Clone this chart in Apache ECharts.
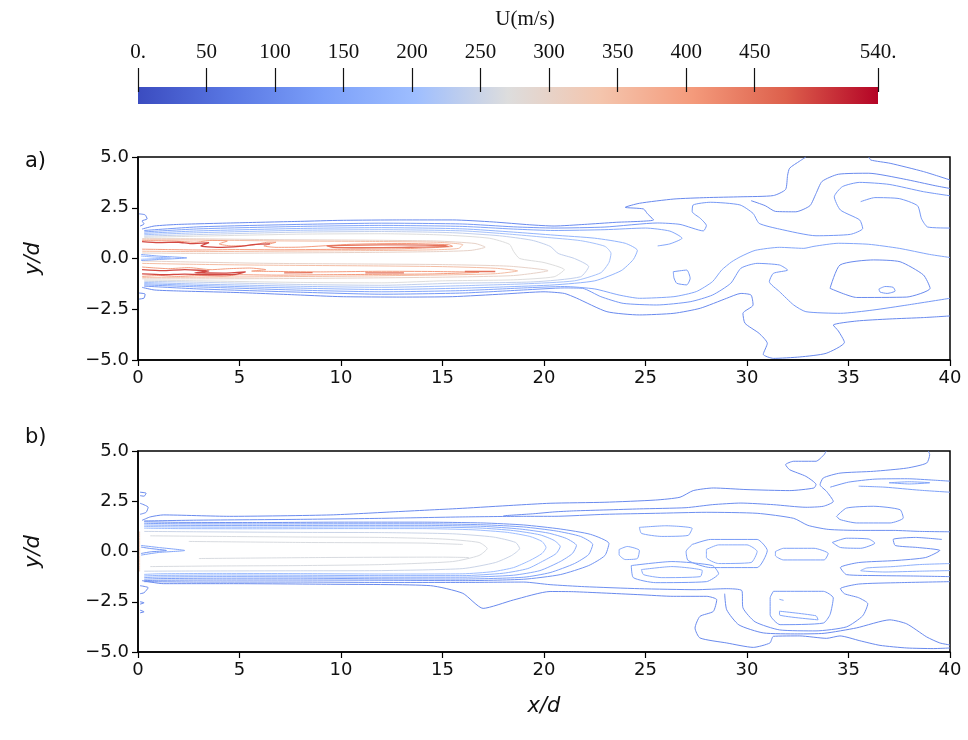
<!DOCTYPE html>
<html><head><meta charset="utf-8">
<script src="https://cdn.jsdelivr.net/npm/echarts@6/dist/echarts.min.js"></script>
<style>html,body{margin:0;padding:0;background:#fff}#c{width:968px;height:740px}</style>
</head><body><div id="c"></div>
<script>
// ---------- colour bar ----------
const cbTicks = [0, 50, 100, 150, 200, 250, 300, 350, 400, 450, 540];
const cbMax = 540;
const cbTitle = 'U(m/s)';
// ---------- axes ----------
const xRange = [0, 40], xStep = 5;
const yRange = [-5, 5], yStep = 2.5;

// ---------- panel a contours [x/d, y/d] ----------
const a_out_top = [[0.2,1.45],[0.8,1.6],[2,1.68],[5,1.76],[8,1.83],[10,1.88],[13,1.9],[15.5,1.9],[17.5,1.8],[19.3,1.66],[20.5,1.6],[22,1.68],[23.5,1.78],[25.4,1.9],[25.1,2.2],[24.9,2.44],[24.0,2.52],[24.7,2.72],[26.4,2.93],[28,3.0],[29.7,3.04],[31.3,3.1],[31.9,3.4],[32,4.1],[32.1,4.45],[32.6,4.8],[32.9,5.0]];
const a_out_bot = [[0.2,-1.42],[0.8,-1.55],[2,-1.6],[5,-1.68],[8,-1.8],[10,-1.88],[13,-1.9],[15.5,-1.88],[18,-1.75],[20,-1.64],[21,-1.72],[21.6,-1.95],[23.1,-2.62],[24.7,-2.78],[26.4,-2.7],[27.7,-2.45],[29.0,-1.96],[29.7,-1.72],[30.2,-1.8],[30.3,-2.29],[29.8,-2.7],[29.9,-3.19],[30.6,-3.69],[31.0,-4.18],[30.8,-4.72],[31.3,-4.92],[32.6,-4.85],[33.9,-4.67],[34.8,-4.13],[34.5,-3.57],[34.25,-3.28],[35.4,-3.08],[37.0,-2.98],[38.7,-2.91],[40,-2.83]];
const a_w2_top = [[0.3,1.38],[3,1.56],[8,1.68],[12,1.74],[16,1.7],[18.5,1.56],[20.5,1.5],[23,1.55],[25.6,1.75],[26.7,1.68],[27.85,1.36],[28.0,1.62],[27.7,1.98],[27.3,2.31],[27.35,2.64],[28.2,2.77],[29.65,2.64],[30.3,2.22],[30.6,1.73],[31.6,1.45],[33.4,1.12],[35.1,1.19],[35.7,1.48],[35.55,1.9],[34.6,2.39],[34.3,3.04],[34.7,3.54],[35.55,3.75],[37.0,3.65],[38.7,3.29],[40,3.09]];
const a_w2_bot = [[0.3,-1.36],[3,-1.5],[8,-1.66],[12,-1.76],[16,-1.7],[19,-1.55],[21.0,-1.45],[21.9,-1.47],[22.8,-1.88],[23.9,-2.21],[25.55,-2.29],[27.2,-2.13],[28.3,-1.8],[29.2,-1.22],[29.7,-0.48],[30.5,-0.24],[31.6,-0.32],[32.0,-0.57],[31.3,-0.73],[31.1,-1.14],[31.6,-1.63],[32.3,-2.29],[32.9,-2.62],[34.6,-2.7],[36.2,-2.54],[37.9,-2.29],[40,-1.96]];
const a_w3_top = [[0.3,1.31],[3,1.46],[8,1.58],[12,1.63],[16,1.58],[18.5,1.45],[20.5,1.38],[23,1.42],[25,1.5],[26.2,1.35],[26.8,1.0],[26.2,0.72],[25.6,0.62]];
const a_w3_bot = [[0.3,-1.3],[3,-1.4],[8,-1.56],[12,-1.64],[16,-1.58],[19,-1.45],[21,-1.38],[22.5,-1.5],[23.7,-1.8],[24.7,-1.96],[26.4,-1.88],[27.5,-1.63],[28.3,-1.14],[28.75,-0.57],[29.25,-0.16],[29.7,0.1],[30.4,0.4],[31.6,0.55],[32.8,0.5],[33.3,0.6],[34.5,0.75],[36,0.7],[37.5,0.5],[39,0.2],[40,0.05]];
const a_j180 = [[0.3,1.24],[3,1.36],[8,1.48],[12,1.52],[16,1.46],[18.5,1.3],[20.5,1.15],[22.5,1.0],[24.0,0.75],[24.6,0.4],[24.4,-0.05],[23.8,-0.6],[22.5,-1.1],[20.5,-1.3],[18,-1.4],[16,-1.46],[12,-1.53],[8,-1.46],[3,-1.33],[0.3,-1.24]];
const a_j210 = [[0.3,1.17],[3,1.27],[8,1.39],[12,1.42],[16,1.36],[18.3,1.2],[20,1.05],[21.8,0.88],[23.0,0.6],[23.3,0.25],[23.2,-0.2],[22.8,-0.7],[21.5,-1.1],[19,-1.25],[16,-1.34],[12,-1.42],[8,-1.37],[3,-1.26],[0.3,-1.18]];
const a_j240 = [[0.3,1.1],[3,1.18],[8,1.3],[12,1.33],[15.5,1.27],[17.8,1.12],[19.4,0.9],[20.3,0.6],[20.7,0.25],[21.5,0.0],[22.2,-0.4],[21.8,-0.9],[19.5,-1.15],[15.5,-1.22],[12,-1.32],[8,-1.28],[3,-1.17],[0.3,-1.12]];
const a_j270 = [[0.3,1.04],[3,1.1],[8,1.2],[12,1.22],[15,1.16],[17.3,1.0],[18.3,0.7],[18.5,0.35],[18.8,0.0],[20,-0.2],[21,-0.55],[20.5,-0.9],[18.5,-1.05],[15,-1.1],[12,-1.2],[8,-1.18],[3,-1.1],[0.3,-1.06]];
const a_u300 = [[0.2,0.98],[3,0.97],[6.5,0.93],[11.4,0.9],[14.7,0.86],[16.6,0.74],[17.1,0.56],[16.4,0.4],[14.7,0.34],[11.4,0.3],[6.5,0.27],[3,0.25],[0.2,0.27]];
const a_u350 = [[0.2,0.92],[3,0.91],[6.5,0.87],[11.4,0.84],[14.7,0.8],[16.0,0.68],[15.8,0.5],[14.7,0.43],[11.4,0.39],[6.5,0.36],[3,0.34],[0.2,0.36]];
const a_u400 = [[0.2,0.88],[1.8,0.86],[2.8,0.8],[3.6,0.89],[4.4,0.86],[4.0,0.72],[4.6,0.62],[5.6,0.65],[6.4,0.8],[6.8,0.8],[6.2,0.62],[6.8,0.55],[8,0.56],[10.5,0.7],[13,0.74],[15.3,0.68],[15.5,0.6],[13,0.48],[9.5,0.45],[7,0.43],[4.8,0.44],[3,0.42],[1.5,0.44],[0.2,0.46]];
const a_u490 = [[0.2,0.83],[1,0.78],[2,0.8],[2.6,0.73],[3.5,0.78],[3.1,0.62],[3.9,0.55],[5,0.6],[5.8,0.7],[6.5,0.72]];
const a_u450 = [[9.3,0.62],[11,0.66],[13,0.67],[15.1,0.64],[15.3,0.59],[13,0.55],[11,0.53],[9.6,0.55],[9.3,0.62]];
const a_l300 = [[0.2,-0.12],[3,-0.18],[6.5,-0.24],[11,-0.27],[15,-0.3],[18.3,-0.38],[20.2,-0.6],[18.5,-0.84],[15,-0.92],[11,-0.96],[6.5,-0.99],[3,-1.0],[0.2,-1.0]];
const a_l350 = [[0.2,-0.24],[3,-0.29],[6.5,-0.33],[11,-0.36],[15,-0.4],[17.6,-0.48],[18.7,-0.61],[17.6,-0.75],[15,-0.81],[11,-0.86],[6.5,-0.9],[3,-0.92],[0.2,-0.93]];
const a_l400 = [[0.2,-0.42],[1.5,-0.5],[2.5,-0.45],[3.6,-0.55],[4.5,-0.5],[5.5,-0.47],[6.3,-0.55],[5.6,-0.62],[7,-0.64],[9,-0.66],[12,-0.63],[14.5,-0.64],[16.8,-0.68],[14.5,-0.76],[12,-0.78],[9,-0.8],[7,-0.82],[5,-0.8],[4.2,-0.87],[3,-0.84],[2,-0.88],[1,-0.84],[0.2,-0.88]];
const a_l490 = [[0.2,-0.55],[1.2,-0.6],[2.3,-0.55],[3.5,-0.62],[2.8,-0.7],[4.2,-0.72],[5.3,-0.66],[4.8,-0.78],[3.5,-0.8],[2.3,-0.77],[1.2,-0.8],[0.2,-0.76]];
const a_l450a = [[7.2,-0.71],[8.6,-0.7]];
const a_l450b = [[11.2,-0.71],[13.1,-0.71]];
const a_l450c = [[16.1,-0.64],[17.6,-0.64]];
const a_c1 = [[0.15,0.2],[1.0,0.12],[2.4,0.03],[1.0,-0.05],[0.15,-0.1]];
const a_c2 = [[0.15,0.12],[0.8,0.07],[1.6,0.02],[0.8,-0.01],[0.15,-0.04]];
const a_n1 = [[0.05,2.2],[0.35,2.15],[0.45,1.95],[0.2,1.85],[0.3,1.7],[0.1,1.6]];
const a_n2 = [[0.05,-1.7],[0.35,-1.75],[0.3,-1.95],[0.05,-2.0]];
const a_tr1 = [[36.0,5.0],[36.1,4.85],[37.05,4.69],[38.7,4.28],[40,3.87]];
const a_tr2 = [[40,3.45],[39.3,3.58],[37.7,3.92],[36.0,4.2],[34.5,4.15],[33.7,3.8],[33.4,3.2],[33.1,2.6],[32.4,2.3],[31.4,2.32],[30.9,2.6],[30.2,2.85]];
const a_tr3 = [[40,1.5],[38.9,1.55],[38.6,1.95],[38.4,2.6],[37.5,2.95],[36.3,3.0],[35.6,2.8]];
const a_m1 = [[26.37,-0.65],[27.03,-0.57],[27.2,-0.98],[27.03,-1.3],[26.54,-1.22],[26.4,-0.95],[26.37,-0.65]];
const a_m2 = [[34.09,-1.47],[34.58,-0.32],[36.23,-0.07],[37.54,-0.16],[38.69,-0.81],[39.02,-1.47],[37.87,-1.9],[35.4,-1.92],[34.09,-1.47]];
const a_m3 = [[36.5,-1.5],[36.8,-1.38],[37.2,-1.42],[37.3,-1.6],[36.9,-1.72],[36.55,-1.65],[36.5,-1.5]];

// ---------- panel b contours [x/d, y/d] ----------
const b_out_top = [[0.2,1.55],[0.6,1.72],[1.25,1.82],[4.5,1.75],[9.5,1.82],[12.7,1.98],[16,2.15],[18.5,2.3],[20.3,2.4],[23,2.45],[25.5,2.56],[26.7,2.7],[27.35,3.03],[28.34,3.16],[30,3.08],[32.1,3.03],[33.3,3.16],[33.4,3.33],[32.9,3.74],[32.1,4.07],[31.9,4.32],[32.3,4.49],[33.4,4.49],[33.8,4.82],[33.9,5.0]];
const b_out_bot = [[0.2,-1.45],[1.25,-1.6],[4.5,-1.6],[9.5,-1.63],[14.4,-1.7],[16,-2.08],[17,-2.83],[18.5,-2.41],[20.3,-1.99],[21.45,-2.0],[24.73,-2.15],[26.37,-2.23],[28.02,-2.23],[28.51,-2.4],[28.34,-2.98],[27.68,-3.23],[27.44,-3.81],[27.68,-4.3],[29.0,-4.55],[30.31,-4.77],[31.13,-4.55],[31.3,-4.22],[32.6,-4.2],[33.92,-4.32],[34.58,-4.2],[35.56,-4.44],[36.55,-4.67],[37.87,-4.8],[39.18,-4.83],[40,-4.8]];
const b_top2 = [[0.3,1.52],[3,1.56],[8,1.6],[12,1.65],[16,1.72],[19,1.75],[20.5,1.75],[23,1.85],[25.5,1.9],[28,1.95],[30.5,1.9],[32.3,1.65],[33.0,1.3],[34.0,1.1],[35.5,1.05],[37.2,1.05],[38.5,1.0],[40,0.98]];
const b_tr2 = [[18,1.78],[19.5,1.88],[20.5,1.97],[21.45,2.02],[23.1,2.07],[24.7,2.12],[27.0,2.18],[28.3,2.33],[29.7,2.41],[31.3,2.33],[32.9,2.2],[33.76,2.25],[34.25,2.49],[33.92,2.99],[33.6,3.32],[33.76,3.66],[34.58,3.9],[36.23,3.99],[37.87,4.15],[38.85,4.4],[39.0,4.82],[38.93,5.0]];
const b_tr3 = [[34.1,3.2],[35.0,3.45],[36.3,3.6],[37.9,3.62],[39.2,3.55],[40,3.5]];
const b_tr4 = [[35.5,3.25],[36.8,3.2],[38.5,3.05],[40,2.95]];
const b_tr5 = [[37.0,3.42],[38.0,3.47],[39.0,3.42],[38.0,3.36],[37.0,3.42]];
const b_loop1 = [[34.41,1.75],[34.9,2.16],[36.23,2.25],[37.54,2.08],[37.7,1.67],[37.05,1.42],[35.4,1.42],[34.58,1.59],[34.41,1.75]];
const b_loop2 = [[34.2,0.45],[34.9,0.66],[36.0,0.62],[36.3,0.42],[35.6,0.16],[34.6,0.2],[34.2,0.45]];
const b_r1 = [[39.6,0.6],[38.3,0.7],[37.2,0.6],[37.3,0.3],[38.4,0.2],[39.5,0.05],[38.8,-0.3],[37.3,-0.45],[35.5,-0.55],[34.6,-0.8],[34.9,-1.15],[36.5,-1.2],[38.2,-1.22],[40,-1.25]];
const b_r2 = [[40,-0.6],[38.5,-0.65],[37.2,-0.75],[35.9,-0.82],[35.6,-0.95],[36.8,-1.02],[38.5,-0.98],[40,-0.95]];
const b_j120 = [[0.3,1.48],[2,1.45],[6,1.44],[10,1.46],[14,1.46],[17,1.42],[19,1.32],[20.8,1.12],[22.3,0.85],[23.2,0.4],[23.0,-0.2],[22.2,-0.7],[20.8,-1.15],[19,-1.38],[16,-1.45],[12,-1.43],[8,-1.42],[4,-1.42],[1,-1.43],[0.3,-1.45]];
const b_j150 = [[0.3,1.4],[2,1.38],[6,1.37],[10,1.38],[14,1.38],[17,1.33],[19,1.22],[20.6,1.02],[21.8,0.75],[22.4,0.35],[22.2,-0.15],[21.5,-0.6],[20.3,-1.05],[19,-1.28],[16,-1.37],[12,-1.36],[8,-1.33],[4,-1.33],[1,-1.35],[0.3,-1.38]];
const b_j180 = [[0.3,1.32],[2,1.3],[6,1.29],[10,1.3],[14,1.3],[17,1.25],[18.8,1.12],[20.2,0.92],[21.1,0.65],[21.6,0.3],[21.4,-0.1],[20.8,-0.5],[19.8,-0.95],[18.5,-1.18],[16,-1.28],[12,-1.28],[8,-1.26],[4,-1.25],[1,-1.27],[0.3,-1.3]];
const b_j210 = [[0.3,1.24],[2,1.22],[6,1.21],[10,1.22],[14,1.22],[16.8,1.17],[18.5,1.04],[19.8,0.83],[20.5,0.55],[20.8,0.25],[20.6,-0.1],[20,-0.45],[19.2,-0.85],[18,-1.08],[16,-1.2],[12,-1.2],[8,-1.18],[4,-1.17],[1,-1.19],[0.3,-1.22]];
const b_j240 = [[0.3,1.16],[2,1.14],[6,1.13],[10,1.14],[14,1.14],[16.5,1.08],[18.2,0.95],[19.3,0.75],[19.9,0.5],[20.1,0.2],[19.9,-0.1],[19.3,-0.45],[18.5,-0.8],[17.5,-1.0],[16,-1.11],[12,-1.12],[8,-1.1],[4,-1.09],[1,-1.11],[0.3,-1.14]];
const b_j270 = [[0.3,1.0],[3,0.98],[8,0.95],[12,0.94],[15.5,0.88],[17.5,0.72],[18.6,0.45],[18.8,0.15],[18.4,-0.2],[17.6,-0.55],[16,-0.85],[12,-0.95],[8,-0.96],[3,-0.97],[0.3,-0.98]];
const b_j290 = [[0.6,0.78],[4,0.75],[8,0.72],[12,0.7],[15,0.62],[16.8,0.45],[17.2,0.15],[16.8,-0.2],[15.5,-0.5],[12,-0.65],[8,-0.7],[4,-0.72],[0.6,-0.75]];
const b_lt1 = [[2.5,0.5],[8,0.45],[14,0.42],[16,0.35]];
const b_lt2 = [[3,-0.35],[9,-0.3],[15,-0.28],[16.3,-0.3]];
const b_c1 = [[0.15,0.3],[1.0,0.2],[2.3,0.05],[1.0,-0.05],[0.15,-0.18]];
const b_c2 = [[0.15,0.22],[0.6,0.15],[1.4,0.05],[0.6,-0.02],[0.15,-0.1]];
const b_s = [[0.08,1.0],[0.08,-1.0]];
const b_n1 = [[0.1,2.95],[0.4,2.9],[0.3,2.75],[0.1,2.78]];
const b_n2 = [[0.1,2.4],[0.5,2.2],[0.4,1.95],[0.1,1.85]];
const b_n3 = [[0.1,-1.7],[0.5,-1.8],[0.3,-2.05],[0.1,-2.1]];
const b_n4 = [[0.1,-2.5],[0.3,-2.55],[0.1,-2.62]];
const b_n5 = [[0.1,-2.92],[0.3,-3.0],[0.1,-3.05]];
const b_w2_bot = [[0.3,-1.5],[3,-1.52],[8,-1.52],[12,-1.54],[16,-1.54],[19,-1.52],[20.3,-1.65],[22,-1.75],[24.7,-1.85],[27.5,-1.9],[29.0,-1.85],[29.75,-1.95],[29.8,-2.8],[30.4,-3.5],[31.6,-3.9],[33.4,-3.95],[34.9,-3.75],[35.7,-3.2],[35.95,-2.6],[35.5,-2.3],[34.8,-2.1],[34.6,-1.85],[35.5,-1.62],[37.5,-1.55],[40,-1.5]];
const b_w3 = [[28.9,-2.1],[29.0,-2.9],[29.6,-3.65],[30.8,-4.05],[32.5,-4.1],[33.8,-4.07],[35.4,-3.8],[37.04,-3.4],[37.87,-3.6],[38.85,-4.25],[39.5,-4.55],[40,-4.65]];
const b_rect = [[31.3,-1.98],[33.76,-1.98],[34.25,-2.31],[34.09,-3.14],[33.76,-3.56],[31.63,-3.64],[31.14,-3.14],[31.14,-2.31],[31.3,-1.98]];
const b_rect_in = [[31.6,-2.97],[33.4,-3.2],[33.5,-3.4],[31.6,-3.15],[31.6,-2.97]];
const b_dot = [[31.6,-2.38],[31.8,-2.43]];
const b_m1 = [[24.7,1.2],[26.0,1.28],[27.3,1.15],[27.1,0.8],[25.8,0.75],[24.8,0.9],[24.7,1.2]];
const b_m2 = [[23.7,0.1],[24.1,0.25],[24.7,0.05],[24.6,-0.35],[24.0,-0.4],[23.7,-0.15],[23.7,0.1]];
const b_m3 = [[28.0,0.1],[28.6,0.33],[30.0,0.33],[30.5,0.0],[30.2,-0.55],[28.6,-0.6],[28.0,-0.3],[28.0,0.1]];
const b_m3o = [[27.3,0.35],[28.2,0.6],[30.5,0.6],[31.0,0.05],[30.5,-0.8],[28.2,-0.8],[27.1,-0.45],[27.0,0.0],[27.3,0.35]];
const b_m4 = [[31.4,0.0],[31.8,0.16],[33.3,0.16],[34.0,-0.1],[33.8,-0.42],[31.8,-0.42],[31.4,-0.2],[31.4,0.0]];
const b_m5 = [[24.8,-0.9],[26.3,-0.75],[27.8,-0.95],[27.7,-1.25],[25.8,-1.3],[24.9,-1.15],[24.8,-0.9]];
const b_m5o = [[24.3,-0.7],[26.3,-0.5],[28.3,-0.7],[28.6,-1.1],[28.0,-1.5],[25.5,-1.55],[24.4,-1.3],[24.3,-0.7]];

// level (m/s) of each contour
const panelA = [
  [100,a_out_top],[100,a_out_bot],[125,a_w2_top],[125,a_w2_bot],[150,a_w3_top],[150,a_w3_bot],
  [180,a_j180],[210,a_j210],[240,a_j240],[270,a_j270],
  [300,a_u300],[350,a_u350],[400,a_u400],[490,a_u490],[450,a_u450],
  [300,a_l300],[350,a_l350],[400,a_l400],[490,a_l490],[450,a_l450a],[450,a_l450b],[450,a_l450c],
  [150,a_c1],[200,a_c2],[100,a_n1],[100,a_n2],[100,a_tr1],[100,a_tr2],[125,a_tr3],[125,a_m1],[100,a_m2],[125,a_m3]
];
const panelB = [
  [100,b_out_top],[100,b_out_bot],[110,b_top2],[105,b_tr2],[120,b_tr3],[140,b_tr4],[150,b_tr5],
  [120,b_loop1],[130,b_loop2],[110,b_r1],[170,b_r2],
  [115,b_j120],[140,b_j150],[160,b_j180],[180,b_j210],[200,b_j240],[250,b_j270],[265,b_j290],[265,b_lt1],[265,b_lt2],
  [150,b_c1],[120,b_c2],[320,b_s],[100,b_n1],[100,b_n2],[100,b_n3],[100,b_n4],[100,b_n5],
  [110,b_w2_bot],[100,b_w3],[120,b_rect],[150,b_rect_in],[150,b_dot],
  [150,b_m1],[150,b_m2],[160,b_m3],[130,b_m3o],[140,b_m4],[160,b_m5],[130,b_m5o]
];

// ---------- styling ----------
const cmapStops = [[0,'#3b4cc0'],[0.125,'#5977e3'],[0.25,'#7b9ff9'],[0.375,'#9ebeff'],[0.5,'#dddddd'],[0.625,'#f4c5ad'],[0.75,'#f49a7b'],[0.875,'#dd604c'],[1,'#b40426']];
function hx(c){return [parseInt(c.slice(1,3),16),parseInt(c.slice(3,5),16),parseInt(c.slice(5,7),16)];}
function cmap(t){
  t=Math.max(0,Math.min(1,t));
  for(let i=1;i<cmapStops.length;i++){
    if(t<=cmapStops[i][0]){
      const a=cmapStops[i-1],b=cmapStops[i];const f=(t-a[0])/(b[0]-a[0]);
      const ca=hx(a[1]),cb=hx(b[1]);
      return 'rgb('+ca.map((v,k)=>Math.round(v+(cb[k]-v)*f)).join(',')+')';
    }
  }
  return cmapStops[cmapStops.length-1][1];
}
const sans='DejaVu Sans', serif='Liberation Serif';
const fmtY=v=>(v<0?'\u2212':'')+Math.abs(v).toFixed(1);

function xAx(gi, withName){
  return {type:'value',gridIndex:gi,min:xRange[0],max:xRange[1],interval:xStep,
    axisLine:{show:true,onZero:false,lineStyle:{color:'#000',width:1.5}},
    axisTick:{show:true,length:6,lineStyle:{color:'#000',width:1.2}},
    axisLabel:{color:'#111',fontFamily:sans,fontSize:18,margin:9},
    splitLine:{show:false},
    name:withName?'x/d':'',nameLocation:'middle',nameGap:44,
    nameTextStyle:{fontFamily:sans,fontSize:21,fontStyle:'italic',color:'#111'}};
}
function yAx(gi){
  return {type:'value',gridIndex:gi,min:yRange[0],max:yRange[1],interval:yStep,
    axisLine:{show:true,onZero:false,lineStyle:{color:'#000',width:1.5}},
    axisTick:{show:true,length:6,lineStyle:{color:'#000',width:1.2}},
    axisLabel:{color:'#111',fontFamily:sans,fontSize:18,margin:9,formatter:fmtY},
    splitLine:{show:false},
    name:'y/d',nameLocation:'middle',nameGap:94,
    nameTextStyle:{fontFamily:sans,fontSize:21,fontStyle:'italic',color:'#111'}};
}

const series=[];
function addPanel(list, gi){
  list.forEach(([lvl,pts])=>{
    series.push({type:'line',xAxisIndex:gi,yAxisIndex:gi,data:pts,showSymbol:false,symbol:'none',
      smooth:0.2,silent:true,z:3,lineStyle:{width:lvl>=450?1.3:1,color:cmap(lvl/cbMax)}});
  });
}
addPanel(panelA,0);
addPanel(panelB,1);
series.push({type:'bar',xAxisIndex:2,yAxisIndex:2,data:[cbMax],barWidth:'100%',silent:true,z:1,
  itemStyle:{color:{type:'linear',x:0,y:0,x2:1,y2:0,colorStops:cmapStops.map(s=>({offset:s[0],color:s[1]}))}}});

const chart=echarts.init(document.getElementById('c'),null,{renderer:'canvas'});
chart.setOption({
  animation:false,
  backgroundColor:'#fff',
  title:[
    {text:'a)',left:20,top:146,textStyle:{fontFamily:sans,fontSize:21,fontWeight:'normal',color:'#111'}},
    {text:'b)',left:20,top:422,textStyle:{fontFamily:sans,fontSize:21,fontWeight:'normal',color:'#111'}}
  ],
  grid:[
    {left:138,right:18,top:157,height:203,show:true,borderColor:'#000',borderWidth:1.5,backgroundColor:'transparent'},
    {left:138,right:18,top:451,height:201,show:true,borderColor:'#000',borderWidth:1.5,backgroundColor:'transparent'},
    {left:138,width:740,top:87,height:17}
  ],
  xAxis:[xAx(0,false),xAx(1,true),
    {type:'value',gridIndex:2,min:0,max:cbMax,position:'top',offset:-5,z:10,
     axisLine:{show:false},
     axisTick:{show:true,customValues:cbTicks,length:24,lineStyle:{color:'#111',width:1.2}},
     axisLabel:{show:true,customValues:cbTicks,margin:29,fontFamily:serif,fontSize:21,color:'#111',
       formatter:v=>(v===0?'0.':(v===cbMax?cbMax+'.':String(v)))},
     splitLine:{show:false},
     name:cbTitle,nameLocation:'middle',nameGap:62,
     nameTextStyle:{fontFamily:serif,fontSize:21,color:'#111',padding:[0,0,0,34]}}
  ],
  yAxis:[yAx(0),yAx(1),{type:'category',gridIndex:2,data:['U'],show:false}],
  series:series
});
</script></body></html>
